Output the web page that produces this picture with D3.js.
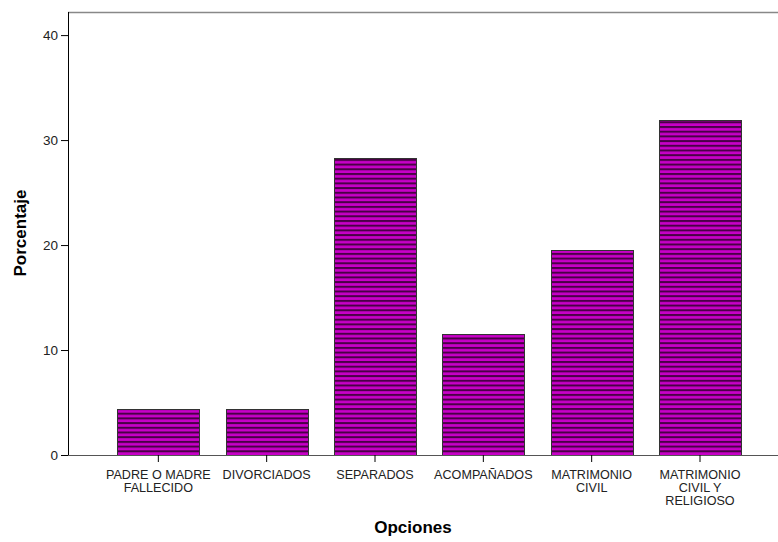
<!DOCTYPE html>
<html><head><meta charset="utf-8">
<script src="https://cdn.jsdelivr.net/npm/d3@7"></script>
<style>html,body{margin:0;padding:0;background:#fff}</style>
</head><body>
<script>
const categories = [["PADRE O MADRE","FALLECIDO"],["DIVORCIADOS"],["SEPARADOS"],["ACOMPAÑADOS"],["MATRIMONIO","CIVIL"],["MATRIMONIO","CIVIL Y","RELIGIOSO"]];
const values = [4.4, 4.4, 28.3, 11.5, 19.5, 31.9];
const yTicks = [0, 10, 20, 30, 40];
const yTitle = "Porcentaje";
const xTitle = "Opciones";

const W = 778, H = 542;
const svg = d3.select("body").append("svg").attr("width", W).attr("height", H);
const font = "'Liberation Sans', Arial, sans-serif";

const defs = svg.append("defs");
const pat = defs.append("pattern").attr("id","stripes").attr("patternUnits","userSpaceOnUse")
  .attr("width", 10).attr("height", 4.7).attr("y", 455);
pat.append("rect").attr("width",10).attr("height",4.7).attr("fill","#c800c8");
pat.append("rect").attr("width",10).attr("height",2).attr("y",0).attr("fill","#4a0046");

const pLeft = 68, pRight = 778, pTop = 12, pBottom = 455;
const y = d3.scaleLinear().domain([0, 42.2]).range([pBottom, pTop]);
const idx = d3.range(categories.length);
const x = d3.scaleBand().domain(idx).range([104.17, 754.17]).paddingInner(0.245).paddingOuter(0.1225);

// frame
svg.append("line").attr("x1",pLeft).attr("x2",pRight).attr("y1",pTop+0.5).attr("y2",pTop+0.5).attr("stroke","#888").attr("stroke-width",1.5);

// bars
svg.append("g").selectAll("rect").data(values).join("rect")
  .attr("x",(d,i)=>Math.round(x(i))+0.5)
  .attr("width",Math.round(x.bandwidth()))
  .attr("y",d=>Math.round(y(d))+0.5)
  .attr("height",d=>pBottom-Math.round(y(d)))
  .attr("fill","url(#stripes)").attr("stroke","#333").attr("stroke-width",1);

// y axis
const ya = svg.append("g").attr("transform",`translate(${pLeft},0)`)
  .call(d3.axisLeft(y).tickValues(yTicks).tickSize(7).tickPadding(3).tickFormat(d3.format("d")));
ya.select(".domain").attr("d",`M0.5,${pTop}V${pBottom+0.5}`).attr("stroke","#000");
ya.selectAll(".tick line").attr("stroke","#000").attr("x1",0.5);
ya.selectAll("text").attr("font-family",font).attr("font-size","13.5px").attr("fill","#222");

// x axis
const xa = svg.append("g").attr("transform",`translate(0,${pBottom})`)
  .call(d3.axisBottom(x).tickSize(7).tickFormat(""));
xa.select(".domain").attr("d",`M${pLeft},0.5H${pRight}`).attr("stroke","#555");
xa.selectAll(".tick line").attr("stroke","#000");
xa.selectAll(".tick").each(function(d){
  const t = d3.select(this).append("text").attr("font-family",font).attr("font-size","12.6px")
    .attr("fill","#222").attr("text-anchor","middle");
  categories[d].forEach((ln,j)=>t.append("tspan").attr("x",0).attr("y",24+13*j).text(ln));
});

// titles
svg.append("text").attr("transform","translate(26,233) rotate(-90)").attr("text-anchor","middle")
  .attr("font-family",font).attr("font-weight","bold").attr("font-size","17px").attr("fill","#000").text(yTitle);
svg.append("text").attr("x",413).attr("y",533).attr("text-anchor","middle")
  .attr("font-family",font).attr("font-weight","bold").attr("font-size","17px").attr("fill","#000").text(xTitle);
</script>
</body></html>
